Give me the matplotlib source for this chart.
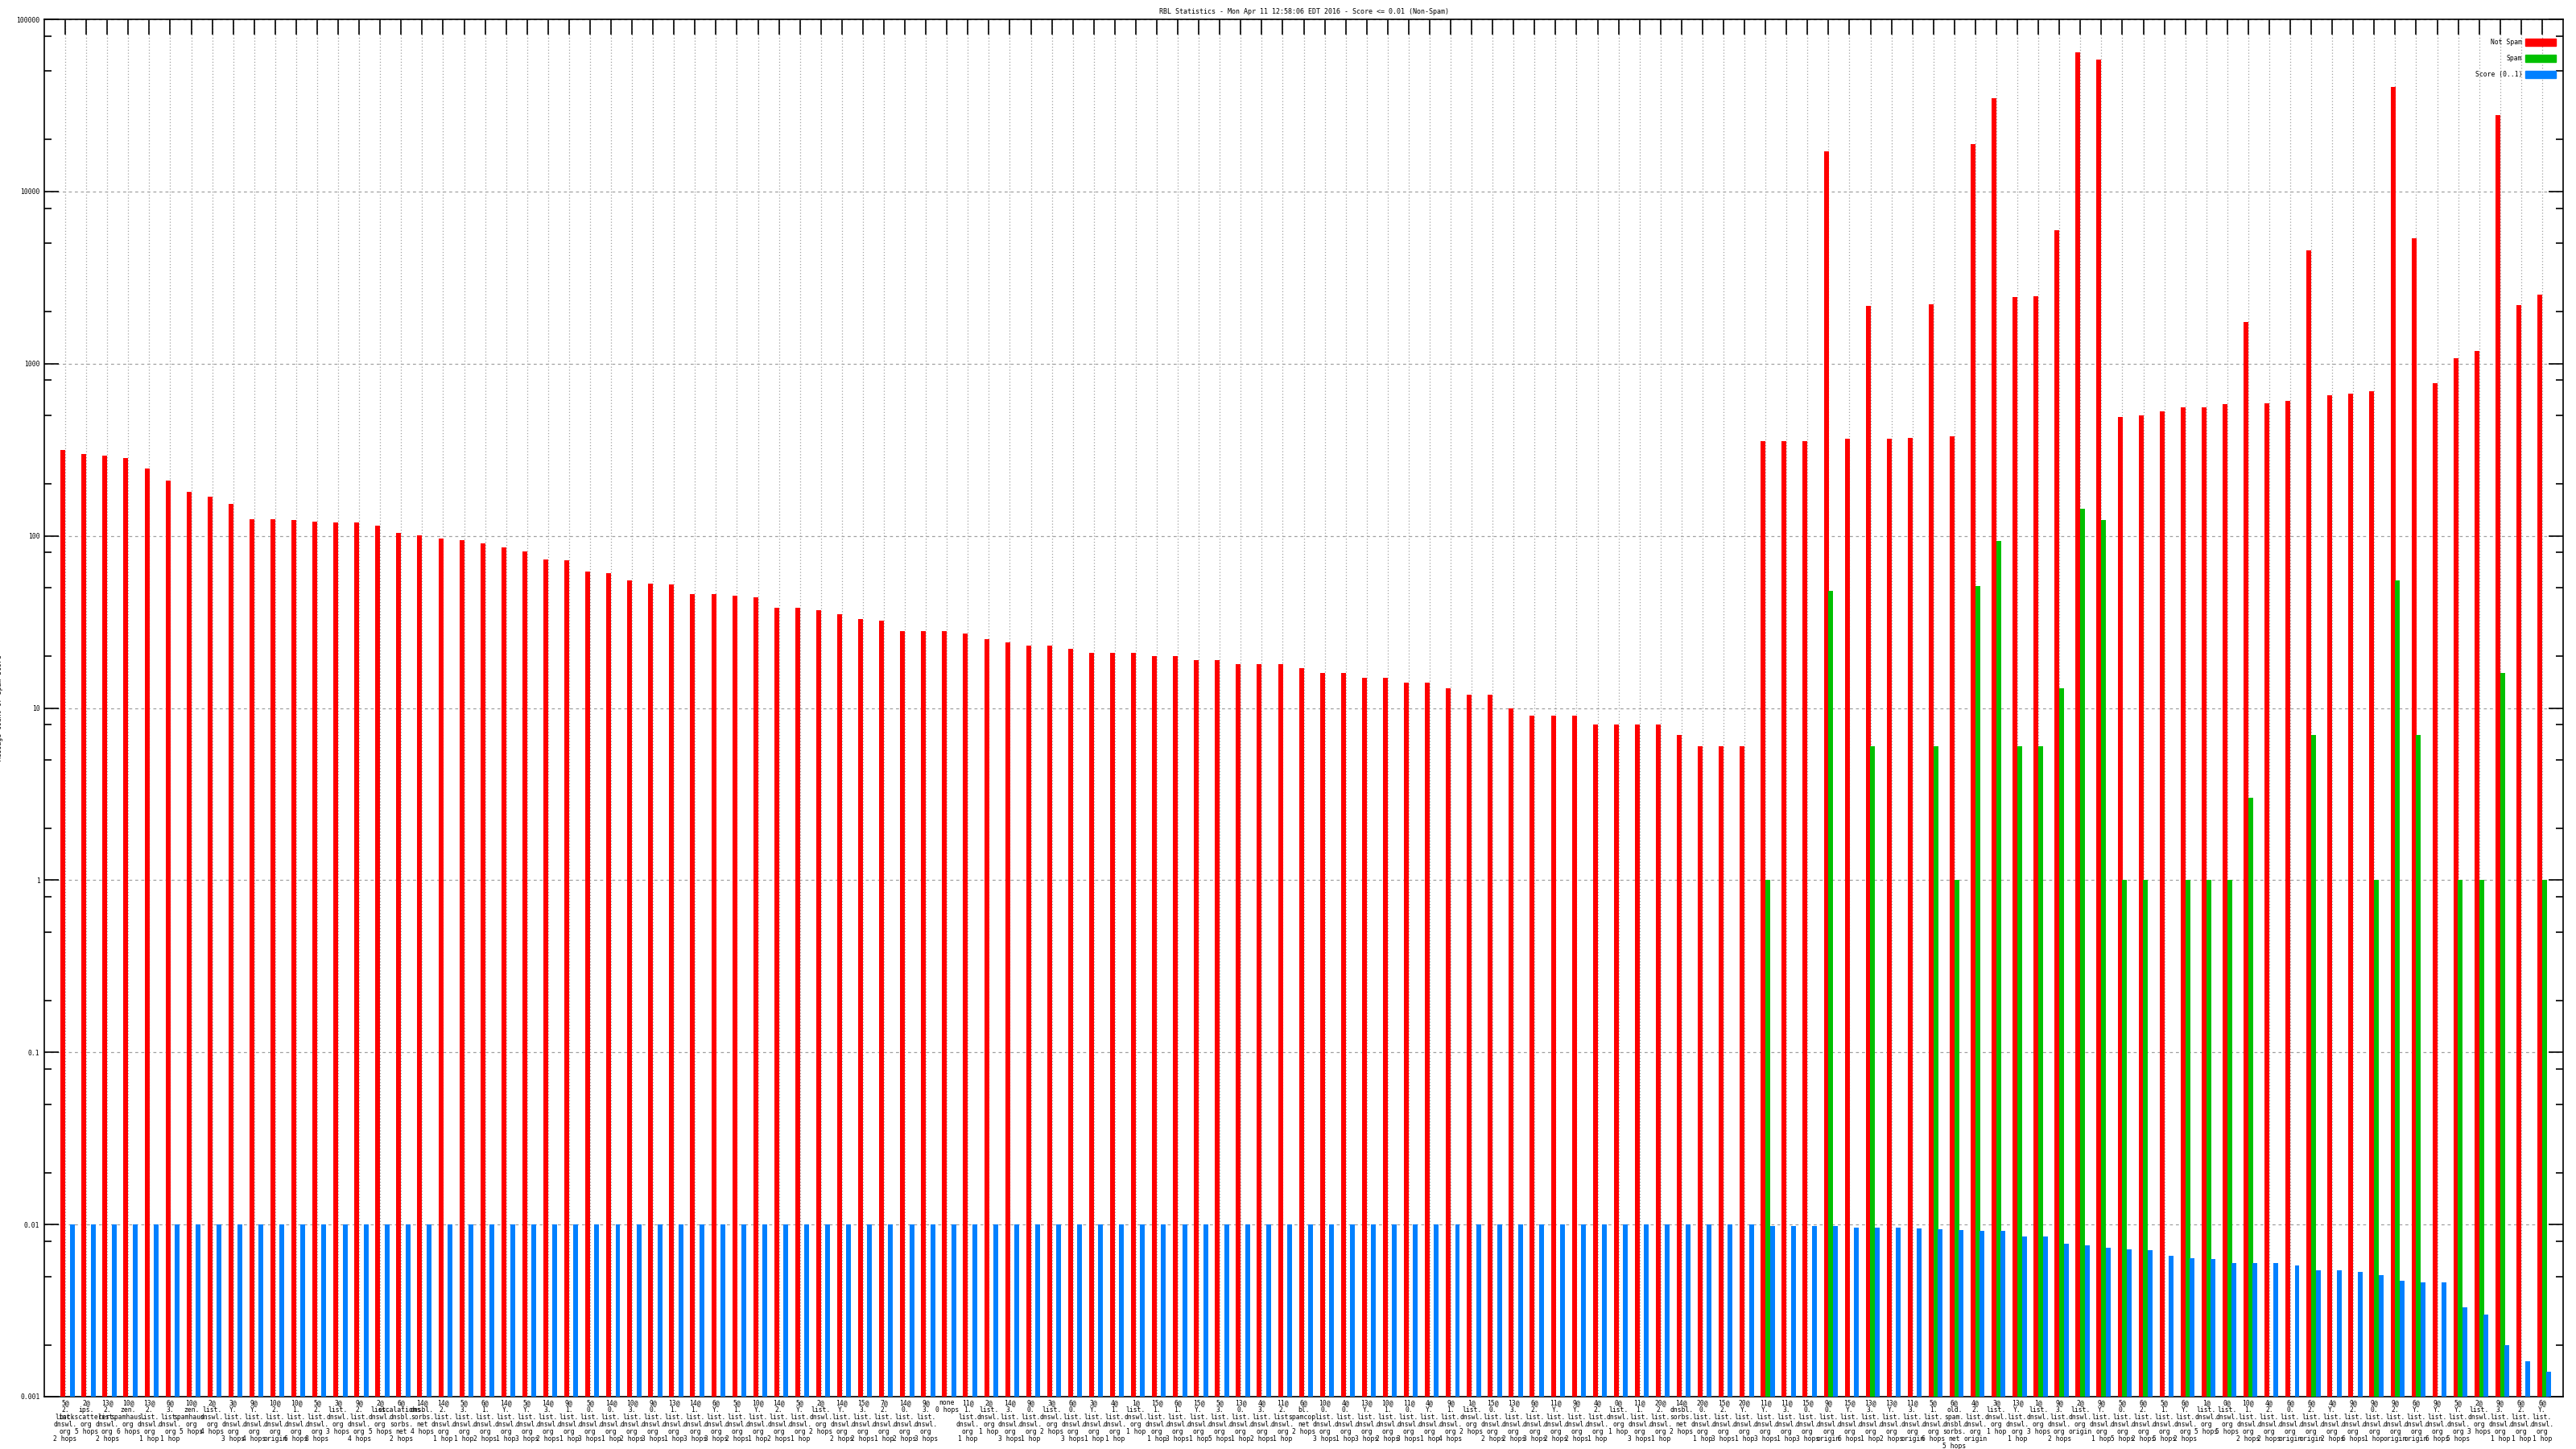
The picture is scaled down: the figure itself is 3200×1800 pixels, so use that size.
import re
import numpy as np
import matplotlib
matplotlib.use("Agg")
import matplotlib.pyplot as plt
from matplotlib.patches import Patch
from matplotlib.ticker import FixedLocator, LogLocator, NullFormatter

# --- data ---
labels = [
    "5@2.list.dnswl.org 2 hops", "2@ips.backscatterer.org 5 hops", "13@2.list.dnswl.org 2 hops",
    "10@zen.spamhaus.org 6 hops", "13@2.list.dnswl.org 1 hop", "6@3.list.dnswl.org 1 hop",
    "10@zen.spamhaus.org 5 hops", "2@list.dnswl.org 4 hops", "3@Y.list.dnswl.org 3 hops",
    "9@Y.list.dnswl.org 4 hops", "10@2.list.dnswl.org origin", "10@1.list.dnswl.org 6 hops",
    "5@2.list.dnswl.org 8 hops", "3@list.dnswl.org 3 hops", "9@2.list.dnswl.org 4 hops",
    "2@list.dnswl.org 5 hops", "6@escalations.dnsbl.sorbs.net 2 hops", "14@dnsbl.sorbs.net 4 hops",
    "14@2.list.dnswl.org 1 hop", "5@3.list.dnswl.org 1 hop",
    "6@1.list.dnswl.org 2 hops", "14@Y.list.dnswl.org 1 hop", "5@Y.list.dnswl.org 3 hops",
    "14@3.list.dnswl.org 2 hops", "9@1.list.dnswl.org 1 hop", "5@0.list.dnswl.org 3 hops",
    "14@0.list.dnswl.org 1 hop", "10@3.list.dnswl.org 2 hops", "9@0.list.dnswl.org 3 hops",
    "13@1.list.dnswl.org 1 hop", "14@1.list.dnswl.org 3 hops", "6@Y.list.dnswl.org 3 hops",
    "5@1.list.dnswl.org 2 hops", "10@Y.list.dnswl.org 1 hop", "14@2.list.dnswl.org 2 hops",
    "5@Y.list.dnswl.org 1 hop", "2@list.dnswl.org 2 hops", "14@Y.list.dnswl.org 2 hops",
    "15@3.list.dnswl.org 2 hops", "7@2.list.dnswl.org 1 hop", "14@0.list.dnswl.org 2 hops",
    "9@3.list.dnswl.org 3 hops", "none 0 hops", "11@1.list.dnswl.org 1 hop",
    "2@list.dnswl.org 1 hop", "14@3.list.dnswl.org 3 hops", "9@0.list.dnswl.org 1 hop",
    "3@list.dnswl.org 2 hops", "6@0.list.dnswl.org 3 hops", "3@Y.list.dnswl.org 1 hop",
    "4@1.list.dnswl.org 1 hop", "1@list.dnswl.org 1 hop", "15@1.list.dnswl.org 1 hop",
    "6@1.list.dnswl.org 3 hops", "15@Y.list.dnswl.org 1 hop", "5@3.list.dnswl.org 5 hops",
    "13@0.list.dnswl.org 1 hop", "4@3.list.dnswl.org 2 hops", "11@2.list.dnswl.org 1 hop",
    "6@bl.spamcop.net 2 hops", "10@0.list.dnswl.org 3 hops", "4@0.list.dnswl.org 1 hop",
    "13@Y.list.dnswl.org 3 hops", "10@1.list.dnswl.org 2 hops", "11@0.list.dnswl.org 3 hops",
    "4@Y.list.dnswl.org 1 hop", "9@1.list.dnswl.org 4 hops", "1@list.dnswl.org 2 hops",
    "15@0.list.dnswl.org 2 hops", "13@3.list.dnswl.org 2 hops", "6@2.list.dnswl.org 3 hops",
    "11@Y.list.dnswl.org 2 hops", "9@Y.list.dnswl.org 2 hops", "4@2.list.dnswl.org 1 hop",
    "0@list.dnswl.org 1 hop", "11@1.list.dnswl.org 3 hops", "20@2.list.dnswl.org 1 hop",
    "14@dnsbl.sorbs.net 2 hops",
    "20@0.list.dnswl.org 1 hop", "15@2.list.dnswl.org 3 hops", "20@Y.list.dnswl.org 1 hop",
    "11@Y.list.dnswl.org 3 hops", "11@3.list.dnswl.org 1 hop", "15@0.list.dnswl.org 3 hops",
    "9@0.list.dnswl.org origin", "15@Y.list.dnswl.org 6 hops", "13@3.list.dnswl.org 1 hop",
    "13@Y.list.dnswl.org 2 hops", "11@3.list.dnswl.org origin", "5@1.list.dnswl.org 6 hops",
    "6@old.spam.dnsbl.sorbs.net 5 hops", "4@2.list.dnswl.org origin", "3@list.dnswl.org 1 hop",
    "13@Y.list.dnswl.org 1 hop", "1@list.dnswl.org 3 hops", "9@3.list.dnswl.org 2 hops",
    "2@list.dnswl.org origin", "9@Y.list.dnswl.org 1 hop", "5@0.list.dnswl.org 5 hops",
    "6@2.list.dnswl.org 2 hops", "5@1.list.dnswl.org 5 hops", "6@Y.list.dnswl.org 2 hops",
    "1@list.dnswl.org 5 hops", "0@list.dnswl.org 5 hops", "10@1.list.dnswl.org 2 hops",
    "4@2.list.dnswl.org 2 hops", "6@0.list.dnswl.org origin", "6@2.list.dnswl.org origin",
    "4@Y.list.dnswl.org 2 hops", "9@2.list.dnswl.org 6 hops", "9@0.list.dnswl.org 1 hop",
    "9@2.list.dnswl.org origin", "6@Y.list.dnswl.org origin", "9@Y.list.dnswl.org 6 hops",
    "5@Y.list.dnswl.org 5 hops", "2@list.dnswl.org 3 hops", "9@3.list.dnswl.org 1 hop",
    "6@2.list.dnswl.org 1 hop", "6@Y.list.dnswl.org 1 hop",
]

not_spam = [
    316, 298, 293, 282, 247, 210, 181, 168, 154, 125, 125, 124, 121, 120, 120, 115, 104, 101, 96, 94,
    90, 86, 81, 73, 72, 62, 61, 55, 53, 52, 46, 46, 45, 44, 38, 38, 37, 35, 33, 32,
    28, 28, 28, 27, 25, 24, 23, 23, 22, 21, 21, 21, 20, 20, 19, 19, 18, 18, 18, 17,
    16, 16, 15, 15, 14, 14, 13, 12, 12, 10, 9, 9, 9, 8, 8, 8, 8, 7, 6, 6,
    6, 356, 356, 356, 17100, 365, 2176, 365, 370, 2220, 378, 18900, 34800, 2450, 2460, 5930,
    64300, 58400, 488, 499, 526, 555, 555, 580, 1753, 587, 611, 4530, 653, 668, 689, 40500,
    5340, 769, 1070, 1180, 27900, 2180, 2530,
]

spam = [0] * 81 + [
    1, 0, 0, 48, 0, 6, 0, 0, 6, 1, 51, 93, 6, 6, 13, 143, 124, 1, 1,
    0, 1, 1, 1, 3, 0, 0, 7, 0, 0, 1, 55, 7, 0, 1, 1, 16, 0, 1,
]

score = [0.01] * 81 + [
    0.0098, 0.0098, 0.0098, 0.0098, 0.0096, 0.0096, 0.0096, 0.0095, 0.0094, 0.0093,
    0.0092, 0.0092, 0.0085, 0.0085, 0.0077, 0.0076, 0.0073, 0.0072, 0.0071, 0.0066,
    0.0064, 0.0063, 0.0060, 0.0060, 0.0060, 0.0058, 0.0054, 0.0054, 0.0053, 0.0051,
    0.0047, 0.0046, 0.0046, 0.0033, 0.0030, 0.0020, 0.0016, 0.0014,
]

y_ticks = [0.001, 0.01, 0.1, 1, 10, 100, 1000, 10000, 100000]
y_tick_labels = ["0.001", "0.01", "0.1", "1", "10", "100", "1000", "10000", "100000"]


def wrap(s):
    # gnuplot style: break after '@' and after every '.', hop count on its own line
    head, _, hops = s.partition(' ')
    parts = [p for p in re.split(r'(?<=[@.])', head) if p]
    return '\n'.join(parts + [hops])


FONT = "DejaVu Sans Mono"
plt.rcParams['font.family'] = FONT

fig = plt.figure(figsize=(32, 18), dpi=100)
W, H = 3200, 1800
ax = fig.add_axes([55 / W, 1 - 1735 / H, (3184 - 55) / W, (1735 - 24) / H])

x = np.arange(1, len(not_spam) + 1)
spam_arr = np.array(spam, dtype=float)
has_spam = spam_arr > 0
bw = 0.23

ax.bar(x - 0.11, not_spam, width=bw, color="#ff0000", zorder=3, log=True)
ax.bar(x[has_spam] + 0.11, spam_arr[has_spam], width=bw, color="#00c000", zorder=3)
ax.bar(x + 0.325, score, width=bw, color="#0080ff", zorder=3)

ax.set_yscale("log")
ax.set_ylim(0.001, 100000)
ax.set_xlim(0, len(not_spam) + 1)

ax.yaxis.set_major_locator(FixedLocator(y_ticks))
ax.set_yticklabels(y_tick_labels)
ax.yaxis.set_minor_locator(LogLocator(base=10, subs=(2, 5, 8)))
ax.yaxis.set_minor_formatter(NullFormatter())
ax.tick_params(axis="y", which="major", direction="in", length=13, width=1.2,
               left=True, right=True, labelsize=5.8, pad=4)
ax.tick_params(axis="y", which="minor", direction="in", length=6.5, width=1.2,
               left=True, right=True)

ax.set_xticks(x)
ax.set_xticklabels([wrap(s) for s in labels], fontsize=5.8, linespacing=1.0)
ax.tick_params(axis="x", which="major", direction="in", length=13.5, width=1.2,
               bottom=False, top=True, labelbottom=True, pad=2)

for sp in ax.spines.values():
    sp.set_linewidth(1.2)

ax.set_axisbelow(True)
ax.grid(axis="x", which="major", color="#a0a0a0", linestyle=(0, (1, 2)), linewidth=0.9)
ax.grid(axis="y", which="major", color="#a0a0a0", linestyle=(0, (3, 3)), linewidth=0.9)

ax.set_title("RBL Statistics - Mon Apr 11 12:58:06 EDT 2016 - Score <= 0.01 (Non-Spam)",
             fontsize=6, pad=5)
ax.set_ylabel("Message Count or Spam Score", fontsize=5.8, labelpad=12)

handles = [Patch(color="#ff0000"), Patch(color="#00c000"), Patch(color="#0080ff")]
ax.legend(handles, ["Not Spam", "Spam", "Score (0..1)"], loc="upper right",
          bbox_to_anchor=(0.9971, 0.986), frameon=False, markerfirst=False,
          fontsize=5.8, handlelength=4.7, handleheight=1.3, handletextpad=0.5,
          labelspacing=1.35, borderaxespad=0, borderpad=0)

fig.savefig("out.png", dpi=100, facecolor="white")
